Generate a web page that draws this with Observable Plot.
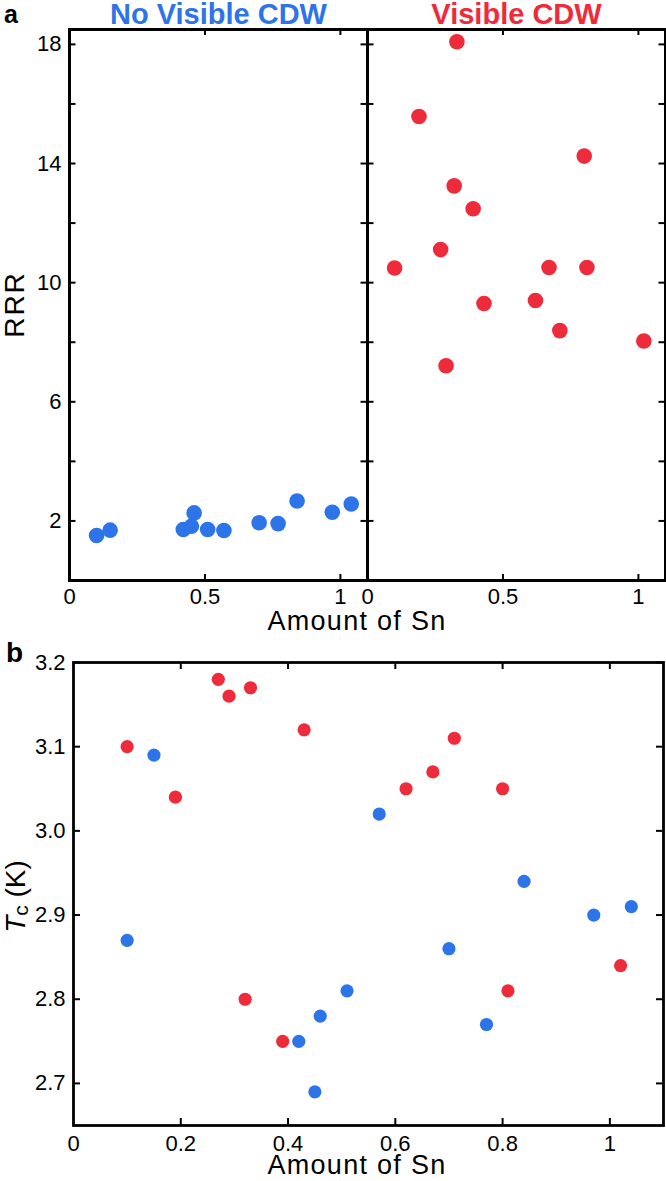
<!DOCTYPE html>
<html>
<head>
<meta charset="utf-8">
<script src="https://cdn.jsdelivr.net/npm/d3@7"></script>
<script src="https://cdn.jsdelivr.net/npm/@observablehq/plot@0.6"></script>
<style>
  html, body { margin: 0; padding: 0; background: #fff; }
  #wrap { width: 666px; }
  #wrap svg { display: block; overflow: visible; }
</style>
</head>
<body>
<div id="wrap"><div id="top"></div><div id="bottom"></div></div>
<script>
// ---- data ----
const groups = ["No Visible CDW", "Visible CDW"];
const groupColors = ["#2e74e9", "#ee2b3b"];

// No visible CDW (blue)
const snBlue  = [0.10, 0.15, 0.42, 0.45, 0.46, 0.51, 0.57, 0.70, 0.77, 0.84, 0.97, 1.04];
const rrrBlue = [1.51, 1.69, 1.71, 1.82, 2.27, 1.71, 1.68, 1.94, 1.91, 2.67, 2.29, 2.57];
const tcBlue  = [2.87, 3.09, 2.75, 2.69, 2.78, 2.81, 3.02, 2.86, 2.77, 2.94, 2.90, 2.91];

// Visible CDW (red)
const snRed  = [0.10, 0.19, 0.27, 0.29, 0.32, 0.33, 0.39, 0.43, 0.62, 0.67, 0.71, 0.80, 0.81, 1.02];
const rrrRed = [10.49, 15.58, 11.11, 7.21, 13.25, 18.09, 12.48, 9.30, 9.40, 10.51, 8.39, 14.25, 10.51, 8.04];
const tcRed  = [3.10, 3.04, 3.18, 3.16, 2.80, 3.17, 2.75, 3.12, 3.05, 3.07, 3.11, 3.05, 2.81, 2.84];

// tick values
const rrrTickLabels = [2, 6, 10, 14, 18];
const rrrTickMarks  = [2, 4, 6, 8, 10, 12, 14, 16, 18];
const snTopLabels   = [0, 0.5, 1];
const snTopMarks    = [0.5, 1];
const tcTickLabels  = [2.7, 2.8, 2.9, 3.0, 3.1, 3.2];
const snBotLabels   = [0, 0.2, 0.4, 0.6, 0.8, 1];
const snBotMarks    = [0.2, 0.4, 0.6, 0.8, 1];

// ---- table built from arrays ----
const rows = [
  ...snBlue.map((sn, i) => ({sn, rrr: rrrBlue[i], tc: tcBlue[i], cdw: groups[0]})),
  ...snRed.map((sn, i) => ({sn, rrr: rrrRed[i], tc: tcRed[i], cdw: groups[1]}))
];

const FONT = "'Liberation Sans', Arial, Helvetica, sans-serif";
const W = 666;

// ---- panel a ----
const A = {h: 640, mt: 29, mb: 60, ml: 68, mr: 1};
const fwA = (W - A.ml - A.mr) / 2;
const fhA = A.h - A.mt - A.mb;
const tickLen = 7;

const plotA = Plot.plot({
  width: W, height: A.h,
  marginTop: A.mt, marginBottom: A.mb, marginLeft: A.ml, marginRight: A.mr,
  style: {fontFamily: FONT, color: "#000", background: "transparent"},
  fx: {domain: groups, padding: 0, axis: null},
  x: {domain: [0, 1.1]},
  y: {domain: [0, 18.5]},
  color: {domain: groups, range: groupColors},
  marks: [
    Plot.tickY(rrrTickMarks, {y: d => d, insetRight: fwA - tickLen, stroke: "#000", strokeWidth: 2}),
    Plot.tickY(rrrTickMarks, {y: d => d, insetLeft: fwA - tickLen, stroke: "#000", strokeWidth: 2}),
    Plot.tickX(snTopMarks, {x: d => d, insetBottom: fhA - tickLen + 1, stroke: "#000", strokeWidth: 2}),
    Plot.tickX(snTopMarks, {x: d => d, insetTop: fhA - tickLen + 1, stroke: "#000", strokeWidth: 2}),
    Plot.dot(rows, {x: "sn", y: "rrr", fx: "cdw", fill: "cdw", r: 7.8}),
    Plot.frame({stroke: "#000", strokeWidth: 3}),
    Plot.axisY(rrrTickLabels, {anchor: "left", tickSize: 0, tickPadding: 8, fontSize: 22, label: null}),
    Plot.axisX(snTopLabels, {anchor: "bottom", tickSize: 0, tickPadding: 8, fontSize: 22, label: null, tickFormat: d => String(d)}),
    Plot.text(groups, {fx: d => d, text: d => d, fill: d => d, frameAnchor: "top", lineAnchor: "middle", dy: -15, fontSize: 29, fontWeight: "bold"})
  ]
});
document.getElementById("top").appendChild(plotA);

// ---- panel b ----
const B = {h: 541, mt: 22, mb: 56, ml: 73, mr: 3};
const fwB = W - B.ml - B.mr;
const fhB = B.h - B.mt - B.mb;

const plotB = Plot.plot({
  width: W, height: B.h,
  marginTop: B.mt, marginBottom: B.mb, marginLeft: B.ml, marginRight: B.mr,
  style: {fontFamily: FONT, color: "#000", background: "transparent"},
  x: {domain: [0, 1.1]},
  y: {domain: [2.65, 3.2]},
  color: {domain: groups, range: groupColors},
  marks: [
    Plot.tickY(tcTickLabels, {y: d => d, insetRight: fwB - tickLen, stroke: "#000", strokeWidth: 2}),
    Plot.tickY(tcTickLabels, {y: d => d, insetLeft: fwB - tickLen, stroke: "#000", strokeWidth: 2}),
    Plot.tickX(snBotMarks, {x: d => d, insetBottom: fhB - tickLen, stroke: "#000", strokeWidth: 2}),
    Plot.tickX(snBotMarks, {x: d => d, insetTop: fhB - tickLen, stroke: "#000", strokeWidth: 2}),
    Plot.dot(rows, {x: "sn", y: "tc", fill: "cdw", r: 6.6}),
    Plot.frame({stroke: "#000", strokeWidth: 2.8}),
    Plot.axisY(tcTickLabels, {anchor: "left", tickSize: 0, tickPadding: 8, fontSize: 22, label: null, tickFormat: d => d.toFixed(1)}),
    Plot.axisX(snBotLabels, {anchor: "bottom", tickSize: 0, tickPadding: 10, fontSize: 22, label: null, tickFormat: d => String(d)})
  ]
});
document.getElementById("bottom").appendChild(plotB);

// ---- labels ----
function label(svg, {x, y, text, size, weight = "normal", rotate = 0, anchor = "middle", spacing = 0}) {
  return d3.select(svg).append("text")
    .attr("transform", `translate(${x},${y}) rotate(${rotate})`)
    .attr("text-anchor", anchor)
    .attr("font-family", FONT)
    .attr("font-size", size)
    .attr("font-weight", weight)
    .attr("letter-spacing", spacing)
    .attr("fill", "#000")
    .text(text);
}
label(plotA, {x: 4, y: 23, text: "a", size: 25, weight: "bold", anchor: "start"});
label(plotA, {x: 24, y: A.mt + fhA / 2, text: "RRR", size: 28, rotate: -90, spacing: 2});
label(plotA, {x: 357, y: 630, text: "Amount of Sn", size: 27, spacing: 1.3});

label(plotB, {x: 6, y: 22, text: "b", size: 28, weight: "bold", anchor: "start"});
label(plotB, {x: 357, y: 534, text: "Amount of Sn", size: 27, spacing: 1.3});

const tcLab = d3.select(plotB).append("text")
  .attr("transform", `translate(25,${B.mt + fhB / 2 + 3}) rotate(-90)`)
  .attr("text-anchor", "middle")
  .attr("font-family", FONT)
  .attr("font-size", 28)
  .attr("fill", "#000");
tcLab.append("tspan").attr("font-style", "italic").text("T");
tcLab.append("tspan").attr("font-size", 21).attr("dy", 3).text("c");
tcLab.append("tspan").attr("dy", -3).text(" (K)");
</script>
</body>
</html>
